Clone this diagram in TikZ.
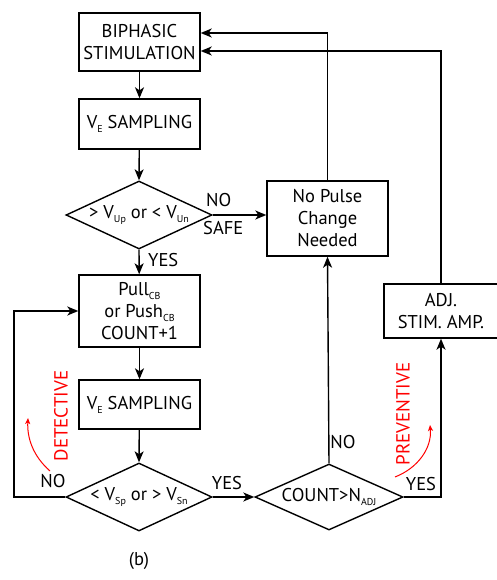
\documentclass[tikz,border=0pt]{standalone}
\usepackage{fontspec}
\setmainfont{PT Sans}
\usetikzlibrary{arrows.meta,shapes.geometric}
\newcommand\lsub[1]{\raisebox{-0.45ex}{\fontsize{10}{10}\selectfont #1}}
\begin{document}
\begin{tikzpicture}[x=1pt,y=-1pt,
  box/.style={draw,line width=1.4pt,inner sep=0pt,align=center,font=\fontsize{18.5}{22}\selectfont},
  dia/.style={draw,line width=1.4pt,diamond,inner sep=0pt,minimum width=146pt,minimum height=68pt},
  lbl/.style={font=\fontsize{18.5}{20}\selectfont,inner sep=0pt},
  flow/.style={line width=1.4pt,-{Stealth[length=11pt,width=9pt,inset=3pt]}},
  red arr/.style={red,line width=1pt,-{Stealth[length=6pt,width=5pt,inset=1.5pt]}},
  redtxt/.style={red,font=\fontsize{19}{20}\selectfont,rotate=90,inner sep=0pt}]
\useasboundingbox (0,0) rectangle (497,580);
% boxes
\node[box,minimum width=121pt,minimum height=58pt] (bi) at (139.5,42) {BIPHASIC\\STIMULATION};
\node[box,minimum width=121pt,minimum height=50pt] (s1) at (139.5,124) {V\lsub{E} SAMPLING};
\node[dia] (d1) at (139,215) {};
\node[lbl] (d1t) at (139,215) {> V\lsub{Up} or < V\lsub{Un}};
\node[box,minimum width=121pt,minimum height=75pt] (np) at (327.5,218.5) {No Pulse\\Change\\Needed};
\node[box,minimum width=121pt,minimum height=72pt] (pu) at (139.5,311) {Pull\lsub{CB}\\or Push\lsub{CB}\\COUNT+1};
\node[box,minimum width=121pt,minimum height=49pt] (s2) at (139.5,404.5) {V\lsub{E} SAMPLING};
\node[dia] (d2) at (139,497) {};
\node[lbl] (d2t) at (139,497) {< V\lsub{Sp} or > V\lsub{Sn}};
\node[dia,minimum width=148pt,minimum height=66pt] (d3) at (329,497) {};
\node[lbl] (d3t) at (329,497) {COUNT>N\lsub{ADJ}};
\node[box,minimum width=114pt,minimum height=54pt] (adj) at (441,311) {ADJ.\\STIM. AMP.};
% flows
\draw[flow] (bi) -- (s1);
\draw[flow] (s1) -- (d1.north);
\draw[flow] (d1.south) -- (pu);
\draw[flow] (d1.east) -- (d1.east -| np.west);
\draw[flow] (pu) -- (s2);
\draw[flow] (s2) -- (d2.north);
\draw[flow] (d2.east) -- (d3.west);
\draw[flow] (d3.north) -- (np.south);
\draw[flow] (d2.west) -- (14,497) |- (pu.west);
\draw[flow] (d3.east) -| (adj.south);
\draw[flow] (np.north) |- ([yshift=9pt]bi.east);
\draw[flow] (adj.north) |- ([yshift=-9pt]bi.east);
% labels
\node[lbl,anchor=west] (yes1) at (148,260) {YES};
\node[lbl,anchor=west] (no1) at (206,200) {NO};
\node[lbl,anchor=west] (safe) at (203,228) {SAFE};
\node[lbl] (no2) at (53,481) {NO};
\node[lbl] (yes2) at (227,483) {YES};
\node[lbl] (no3) at (343,442) {NO};
\node[lbl] (yes3) at (421,484) {YES};
\node[lbl] (b) at (139,561) {(b)};
% red
\node[redtxt] (det) at (61,416) {DETECTIVE};
\node[redtxt] (prev) at (403,414) {PREVENTIVE};
\draw[red arr] (50,471) .. controls (33,456) and (27,438) .. (28,418);
\draw[red arr] (395,477) .. controls (418,468) and (432,448) .. (430,425);
\end{tikzpicture}
\end{document}
